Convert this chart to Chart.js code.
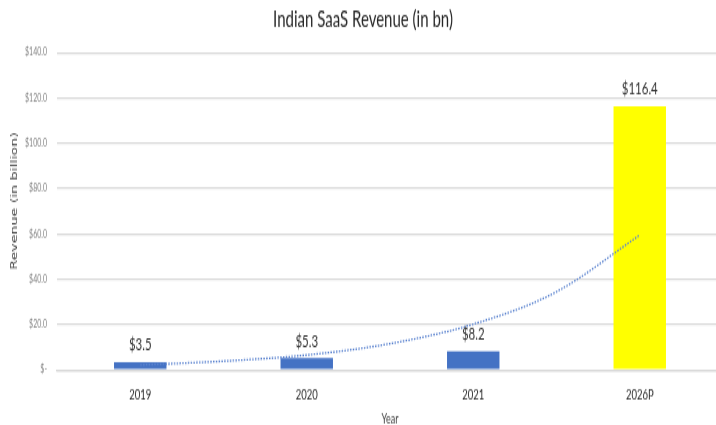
<!DOCTYPE html>
<html>
<head>
<meta charset="utf-8">
<script src="https://cdn.jsdelivr.net/npm/chart.js@4.4.1/dist/chart.umd.min.js"></script>
<style>
  html, body { margin: 0; padding: 0; background: #fff; overflow: hidden; }
  /* the chart is rendered at a flatter size and shown stretched to full height */
  #c { display: block; width: 730px; height: 425px; }
</style>
</head>
<body>
<canvas id="c" width="730" height="284" style="width:730px;height:425px"></canvas>
<script>
// Revenue by year (USD bn)
const years = ['2019', '2020', '2021', '2026P'];
const revenue = [3.5, 5.3, 8.2, 116.4];
const barColors = ['#4472C4', '#4472C4', '#4472C4', '#FFFF00'];

// Exponential trend curve, sampled along the category positions (0 = 2019 ... 3 = 2026P)
const trendX = [0, 0.5, 1, 1.5, 2, 2.5, 3];
const trendY = [2.2, 3.9, 6.6, 11.6, 20.2, 34.5, 59.5];

// Value axis labels
const yTickValues = [0, 20, 40, 60, 80, 100, 120, 140];
const yTickLabels = ['$-', '$20.0', '$40.0', '$60.0', '$80.0', '$100.0', '$120.0', '$140.0'];

const chartTitle = 'Indian SaaS Revenue (in bn)';
const yTitle = 'Revenue (in billion)';
const xTitle = 'Year';

const FONT = 'Lato, "Open Sans", sans-serif';

// Titles and value labels
const annotate = {
  id: 'annotate',
  afterDatasetsDraw(chart) {
    const ctx = chart.ctx;
    const area = chart.chartArea;
    const midX = (area.left + area.right) / 2;
    ctx.save();
    ctx.textAlign = 'center';
    ctx.textBaseline = 'middle';

    // bar value labels
    ctx.fillStyle = '#333333';
    ctx.font = '11.5px ' + FONT;
    chart.getDatasetMeta(0).data.forEach((bar, i) => {
      ctx.fillText('$' + revenue[i].toFixed(1), bar.x, bar.y - 11.3);
    });

    // chart title
    ctx.fillStyle = '#262626';
    ctx.font = '15px ' + FONT;
    ctx.fillText(chartTitle, midX - 27, 13.6);

    // x axis title
    ctx.fillStyle = '#404040';
    ctx.font = '9px ' + FONT;
    ctx.fillText(xTitle, midX, 280.5);

    // y axis title
    ctx.font = '9.5px "DejaVu Sans", sans-serif';
    ctx.translate(15, 134.3);
    ctx.rotate(-Math.PI / 2);
    ctx.fillText(yTitle, 0, 0);
    ctx.restore();
  }
};

new Chart(document.getElementById('c'), {
  data: {
    labels: years,
    datasets: [
      {
        type: 'bar',
        data: revenue,
        backgroundColor: barColors,
        grouped: false,
        categoryPercentage: 1,
        barPercentage: 0.315,
        order: 2
      },
      {
        type: 'line',
        xAxisID: 'xt',
        data: trendX.map((x, i) => ({ x: x, y: trendY[i] })),
        borderColor: '#5b83cf',
        borderWidth: 1.3,
        borderDash: [1.5, 1.3],
        pointRadius: 0,
        tension: 0.4,
        cubicInterpolationMode: 'monotone',
        fill: false,
        order: 1
      }
    ]
  },
  options: {
    responsive: false,
    animation: false,
    devicePixelRatio: 1,
    layout: { padding: { top: 35.2, left: 0, right: 7, bottom: 0 } },
    plugins: {
      legend: { display: false },
      tooltip: { enabled: false },
      title: { display: false }
    },
    scales: {
      x: {
        type: 'category',
        offset: true,
        grid: { display: false, drawTicks: false },
        border: { display: true, color: '#d9d9d9', width: 1.3 },
        ticks: {
          color: '#262626',
          font: { family: FONT, size: 9.5 },
          padding: 11.2
        },
        afterFit(scale) { scale.height = 36.8; }
      },
      xt: {
        type: 'linear',
        display: false,
        min: -0.5,
        max: 3.5,
        offset: false
      },
      y: {
        min: 0,
        max: 140,
        afterBuildTicks(scale) {
          scale.ticks = yTickValues.map(v => ({ value: v }));
        },
        grid: { color: '#d9d9d9', lineWidth: 1.3, drawTicks: false },
        border: { display: false },
        ticks: {
          color: '#7f7f7f',
          font: { family: FONT, size: 7 },
          padding: 10,
          callback(value) {
            const i = yTickValues.indexOf(value);
            return i >= 0 ? yTickLabels[i] : '';
          }
        },
        afterFit(scale) { scale.width = 57; }
      }
    }
  },
  plugins: [annotate]
});
</script>
</body>
</html>
